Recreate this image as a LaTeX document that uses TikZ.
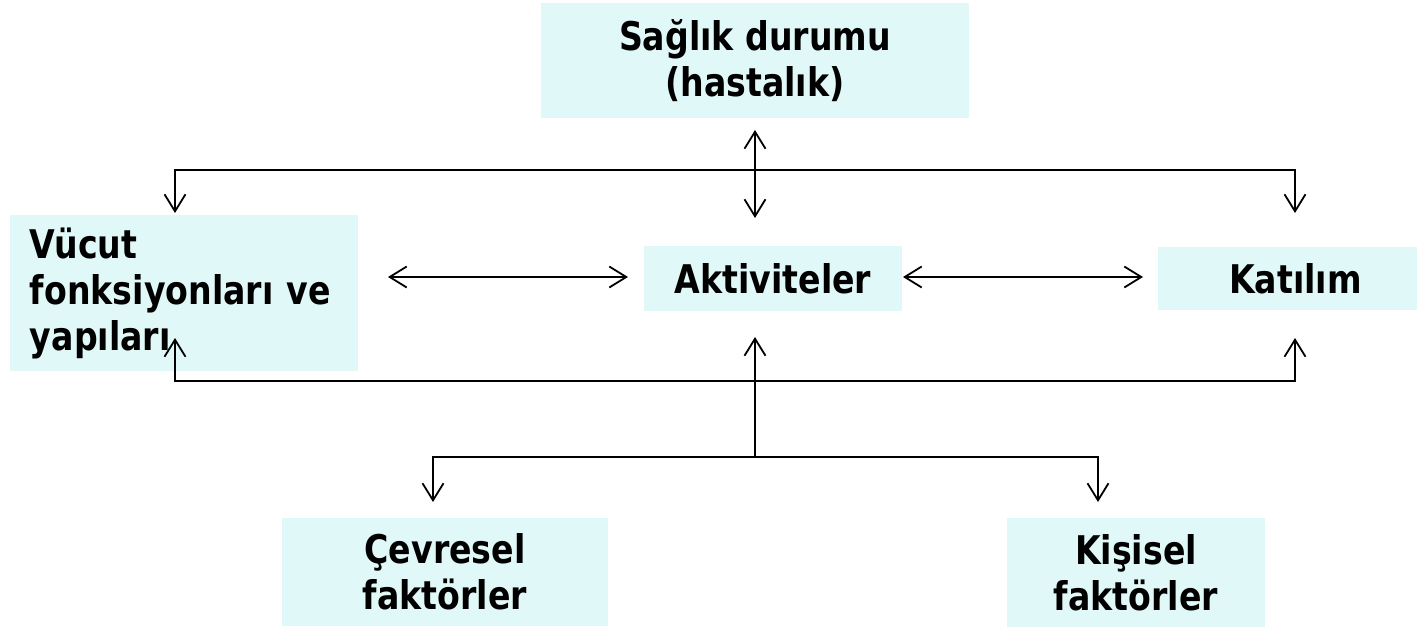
\documentclass[tikz,border=0pt]{standalone}
\usepackage{fontspec}
\newfontfamily\lbl[FakeStretch=0.84]{DejaVu Sans}
\usetikzlibrary{arrows.meta}
\definecolor{boxfill}{RGB}{224,248,247}
\begin{document}
\begin{tikzpicture}[x=1pt,y=-1pt,
  box/.style={fill=boxfill, draw=none, inner sep=0pt, align=center,
    font=\lbl\bfseries\fontsize{39.5}{46}\selectfont},
  conn/.style={line width=1.8pt, arrows={Straight Barb[length=17pt,width=21pt,line width=1.8pt]-Straight Barb[length=17pt,width=21pt,line width=1.8pt]}},
  conn1/.style={line width=1.8pt, -{Straight Barb[length=17pt,width=21pt,line width=1.8pt]}}]
\useasboundingbox (0,0) rectangle (1417,627);
% boxes
\node[box, minimum width=428pt, minimum height=115pt] (saglik) at (755,60.5) {Sağlık durumu\\(hastalık)};
\node[box, minimum width=348pt, minimum height=156pt, align=left, text width=308pt, inner xsep=20pt] (vucut) at (184,293) {Vücut\\fonksiyonları ve\\yapıları};
\node[box, minimum width=258pt, minimum height=65pt] (akt) at (773,278.5) {Aktiviteler};
\node[box, minimum width=259pt, minimum height=63pt] (kat) at (1287.5,278.5) {\hspace*{16pt}Katılım};
\node[box, minimum width=326pt, minimum height=108pt] (cevre) at (445,572) {Çevresel\\faktörler};
\node[box, minimum width=258pt, minimum height=109pt] (kisi) at (1136,572.5) {Kişisel\\faktörler};
% coordinates
\coordinate (tl) at (175,170);
\coordinate (tr) at (1295,170);
\coordinate (vin) at (175,213);
\coordinate (kin) at (1295,213);
\coordinate (sb) at (755,130);
\coordinate (at) at (755,218);
\coordinate (bl) at (175,381);
\coordinate (br) at (1295,381);
\coordinate (vup) at (175,338);
\coordinate (kup) at (1295,338);
\coordinate (ab) at (755,337);
\coordinate (jn) at (755,457);
\coordinate (cl) at (433,457);
\coordinate (cr) at (1098,457);
\coordinate (cin) at (433,502);
\coordinate (kiin) at (1098,502);
\coordinate (h1) at (388,277);
\coordinate (h2) at (628,277);
\coordinate (h3) at (903,277);
\coordinate (h4) at (1143,277);
% connectors
\draw[conn] (vin) -- (tl) -- (tr) -- (kin);
\draw[conn] (sb) -- (at);
\draw[conn] (h1) -- (h2);
\draw[conn] (h3) -- (h4);
\draw[conn] (vup) -- (bl) -- (br) -- (kup);
\draw[conn1] (jn) -- (ab);
\draw[conn] (cin) -- (cl) -- (cr) -- (kiin);
\end{tikzpicture}
\end{document}
